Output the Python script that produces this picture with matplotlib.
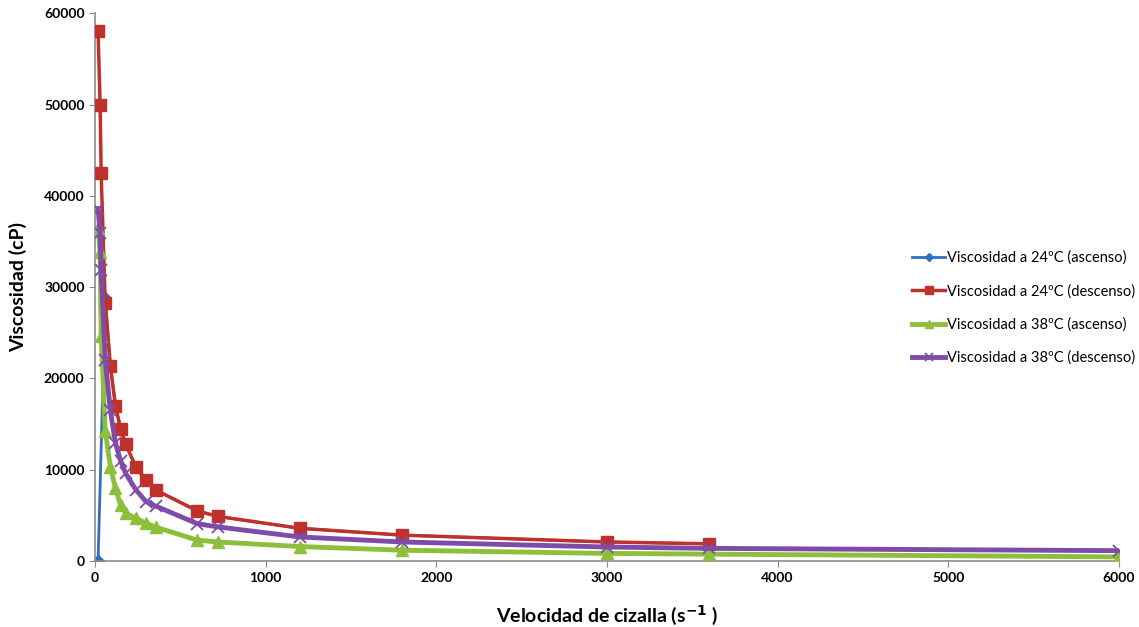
import numpy as np
import matplotlib
matplotlib.use('Agg')
from matplotlib import pyplot as plt

# velocidad de cizalla (s-1)
shear = [18, 30, 36, 60, 90, 120, 150, 180, 240, 300, 360,
         600, 720, 1200, 1800, 3000, 3600, 6000]

# viscosidad (cP)
visc24_asc_x = [18, 60, 90, 120, 150, 180, 240, 300, 360,
                600, 720, 1200, 1800, 3000, 3600]
visc24_asc = [0, 28800, 21400, 17000, 14500, 12800, 10300, 8850, 7750,
              5500, 4900, 3600, 2850, 2100, 1900]
visc24_desc = [58000, 50000, 42500, 28300, 21400, 17000, 14500, 12800, 10300,
               8850, 7750, 5500, 4900, 3600, 2850, 2100, 1900]
visc38_asc = [36500, 33800, 24700, 14300, 10300, 8000, 6100, 5250, 4700,
              4150, 3700, 2300, 2100, 1600, 1200, 850, 770, 470]
visc38_desc = [38600, 35900, 31900, 22000, 16500, 12900, 11000, 9600, 7800,
               6500, 6000, 4100, 3750, 2650, 2100, 1550, 1400, 1150]

labels = ['Viscosidad a 24ºC (ascenso)', 'Viscosidad a 24ºC (descenso)',
          'Viscosidad a 38ºC (ascenso)', 'Viscosidad a 38ºC (descenso)']

plt.rcParams['font.family'] = ['Lato', 'DejaVu Sans']

fig = plt.figure(figsize=(11.39, 6.27), dpi=100)
ax = fig.add_axes([0.0834, 0.105, 0.899, 0.874])

ax.plot(visc24_asc_x, visc24_asc, color='#2f6fbd', lw=2, marker='D', ms=6,
        label=labels[0], zorder=2)
ax.plot(shear[:17], visc24_desc, color='#c1312b', lw=2.5, marker='s', ms=9,
        label=labels[1], zorder=3)
ax.plot(shear, visc38_asc, color='#8dbf3b', lw=3.5, marker='^', ms=9,
        label=labels[2], zorder=4)
ax.plot(shear, visc38_desc, color='#7e4ca8', lw=3.5, marker='x', ms=9, mew=1.3,
        label=labels[3], zorder=5)

ax.set_xlim(0, 6000)
ax.set_ylim(0, 60000)
ax.set_xticks(np.arange(0, 6001, 1000))
ax.set_yticks(np.arange(0, 60001, 10000))
for s in ['top', 'right']:
    ax.spines[s].set_visible(False)
for s in ['left', 'bottom']:
    ax.spines[s].set_color('#8c8c8c')
    ax.spines[s].set_linewidth(1.2)
ax.tick_params(direction='out', length=4, color='#8c8c8c', labelsize=10)
for t in ax.get_xticklabels() + ax.get_yticklabels():
    t.set_fontweight('bold')

ax.set_xlabel('Velocidad de cizalla (s$^{\\mathbf{-1}}$ )', fontsize=14,
              fontweight='bold', labelpad=14)
ax.set_ylabel('Viscosidad (cP)', fontsize=14, fontweight='bold', labelpad=12)

ax.legend(loc='center left', bbox_to_anchor=(0.785, 0.462), frameon=False,
          fontsize=10.5, handlelength=2.3, handletextpad=0.1, labelspacing=1.3,
          markerscale=0.7)

fig.savefig('out.png', dpi=100)
